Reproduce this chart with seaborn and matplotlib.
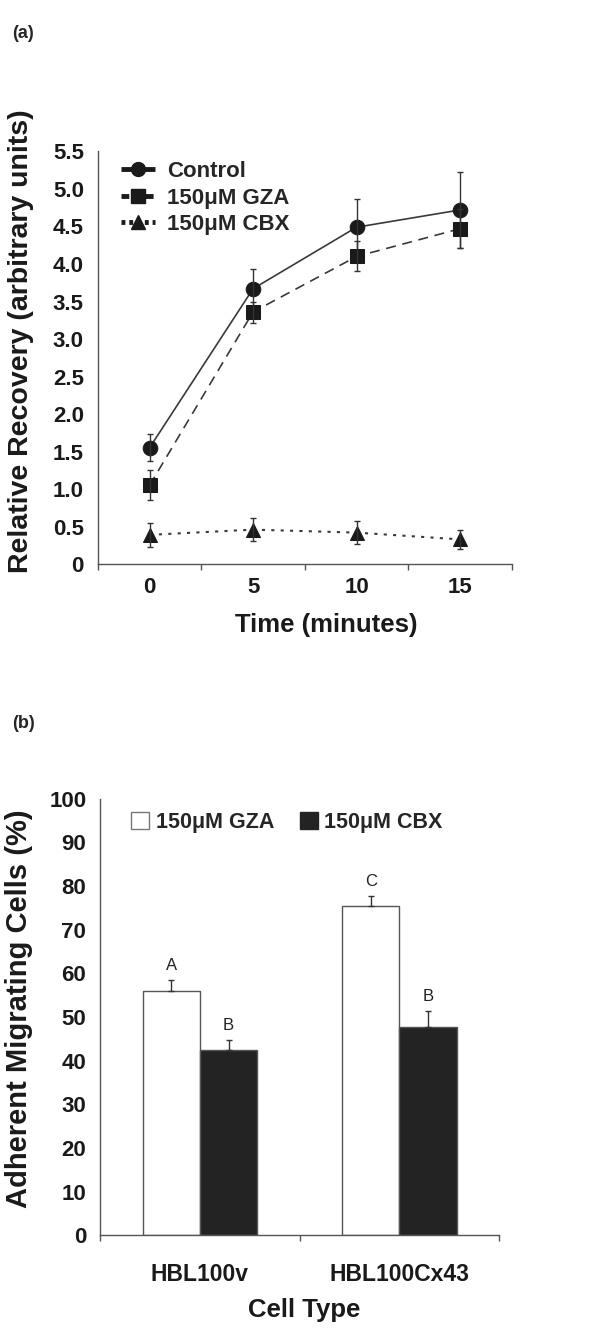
import numpy as np
import pandas as pd
import seaborn as sns
import matplotlib.pyplot as plt
from matplotlib.lines import Line2D
from matplotlib.patches import Patch

# panel (a) data
times = ['0', '5', '10', '15']
control = [1.55, 3.67, 4.49, 4.72]
control_err = [0.18, 0.26, 0.38, 0.51]
gza = [1.05, 3.36, 4.10, 4.47]
gza_err = [0.20, 0.14, 0.20, 0.26]
cbx = [0.39, 0.46, 0.42, 0.33]
cbx_err = [0.16, 0.15, 0.15, 0.13]

# panel (b) data
cell_types = ['HBL100v', 'HBL100Cx43']
treatments = ['150\u03bcM GZA', '150\u03bcM CBX']
gza_pct = [56.0, 75.4]
gza_pct_err = [2.5, 2.4]
cbx_pct = [42.5, 47.7]
cbx_pct_err = [2.3, 3.6]
letters_gza = ['A', 'C']
letters_cbx = ['B', 'B']

sns.set_theme(style='white')
plt.rcParams['font.family'] = ['Liberation Sans', 'DejaVu Sans']
plt.rcParams['font.weight'] = 'bold'

fig = plt.figure(figsize=(6, 13.4), dpi=100)
ax1 = fig.add_axes([0.163, 0.579, 0.69, 0.308])
ax2 = fig.add_axes([0.167, 0.078, 0.665, 0.326])

axis_col = '#555555'
line_col = '#3a3a3a'

# ---- panel (a)
pos = np.arange(len(times))
series = [('Control', control, control_err, 'o', '-', (0, ()), 1.2),
          ('150\u03bcM GZA', gza, gza_err, 's', (0, (6, 4)), (0, (1.6, 0.9)), 1.2),
          ('150\u03bcM CBX', cbx, cbx_err, '^', (0, (1.5, 3)), (0, (0.8, 0.8)), 1.5)]
handles = []
for name, vals, err, mk, ls, leg_ls, lw in series:
    sns.lineplot(x=pos, y=vals, ax=ax1, color=line_col, linestyle=ls, linewidth=lw,
                 marker=mk, markersize=10.5, markerfacecolor='#1a1a1a',
                 markeredgecolor='#1a1a1a')
    ax1.errorbar(pos, vals, yerr=err, fmt='none', ecolor='#333333',
                 elinewidth=1, capsize=2.5, capthick=1)
    handles.append(Line2D([], [], color='#1a1a1a', linestyle=leg_ls, linewidth=3.5,
                          marker=mk, markersize=10, label=name))

ax1.set_xlim(-0.5, len(times) - 0.5)
ax1.set_ylim(0, 5.5)
ax1.set_yticks(np.arange(0, 5.51, 0.5))
ax1.set_yticklabels(['0'] + [f'{v:.1f}' for v in np.arange(0.5, 5.51, 0.5)])
ax1.set_xticks(pos)
ax1.set_xticklabels(times)
ax1.set_xticks(np.arange(-0.5, len(times)), minor=True)
ax1.set_xlabel('Time (minutes)', fontsize=18.5, fontweight='bold')
ax1.set_ylabel('Relative Recovery (arbitrary units)', fontsize=20.5, fontweight='bold')
ax1.xaxis.set_label_coords(0.553, -0.118)
ax1.yaxis.set_label_coords(-0.155, 0.54)
ax1.legend(handles=handles, loc='upper left', bbox_to_anchor=(0.035, 0.998),
           frameon=False, prop={'size': 16, 'weight': 'bold'},
           handlelength=1.5, handletextpad=0.55, labelspacing=0.25,
           borderaxespad=0)

# ---- panel (b)
df = pd.DataFrame({
    'cell': cell_types * 2,
    'treatment': [treatments[0]] * 2 + [treatments[1]] * 2,
    'pct': gza_pct + cbx_pct,
})
sns.barplot(data=df, x='cell', y='pct', hue='treatment', ax=ax2,
            palette=['white', '#232323'], width=0.575, errorbar=None,
            edgecolor=axis_col, linewidth=1, legend=False)

errs = [gza_pct_err, cbx_pct_err]
vals_all = [gza_pct, cbx_pct]
letters = [letters_gza, letters_cbx]
bar_conts = list(ax2.containers)
for k, cont in enumerate(bar_conts):
    for j, bar in enumerate(cont):
        xc = bar.get_x() + bar.get_width() / 2
        top = vals_all[k][j]
        ax2.errorbar(xc, top, yerr=[[0], [errs[k][j]]], fmt='none',
                     ecolor='#333333', elinewidth=1, capsize=2.5, capthick=1)
        ax2.text(xc, top + errs[k][j] + 1.6, letters[k][j], ha='center',
                 va='bottom', fontsize=12, fontweight='normal', color='#222222')

ax2.set_xlim(-0.5, len(cell_types) - 0.5)
ax2.set_ylim(0, 100)
ax2.set_yticks(np.arange(0, 101, 10))
ax2.set_xticks(np.arange(-0.5, len(cell_types)), minor=True)
ax2.set_xlabel('Cell Type', fontsize=18.5, fontweight='bold')
ax2.set_ylabel('Adherent Migrating Cells (%)', fontsize=21, fontweight='bold')
ax2.xaxis.set_label_coords(0.51, -0.142)
ax2.yaxis.set_label_coords(-0.168, 0.52)
leg_handles = [Patch(facecolor='white', edgecolor='#777777', label=treatments[0]),
               Patch(facecolor='#232323', edgecolor='#232323', label=treatments[1])]
ax2.legend(handles=leg_handles, loc='upper left', bbox_to_anchor=(0.055, 0.99),
           ncol=2, frameon=False, prop={'size': 15.5, 'weight': 'bold'},
           handlelength=0.85, handleheight=0.85, handletextpad=0.3,
           columnspacing=1.2, borderaxespad=0)

for ax, xpad, xsize in [(ax1, 9, 16), (ax2, 20, 16.5)]:
    sns.despine(ax=ax)
    for side in ['left', 'bottom']:
        ax.spines[side].set_color(axis_col)
        ax.spines[side].set_linewidth(1)
    ax.tick_params(axis='y', which='major', direction='out', length=4, width=1,
                   color=axis_col, labelsize=16, pad=6)
    ax.tick_params(axis='x', which='major', length=0, labelsize=xsize, pad=xpad)
    ax.tick_params(axis='x', which='minor', direction='out', length=4, width=1,
                   color=axis_col, bottom=True)
    for lab in ax.get_xticklabels() + ax.get_yticklabels():
        lab.set_fontweight('bold')
        lab.set_color('#1a1a1a')
    ax.xaxis.label.set_color('#1a1a1a')
    ax.yaxis.label.set_color('#1a1a1a')

fig.text(0.02, 0.9813, '(a)', fontsize=13, fontweight='bold', va='top')
fig.text(0.02, 0.4664, '(b)', fontsize=13, fontweight='bold', va='top')

fig.savefig('out.png', dpi=100, facecolor='white')
